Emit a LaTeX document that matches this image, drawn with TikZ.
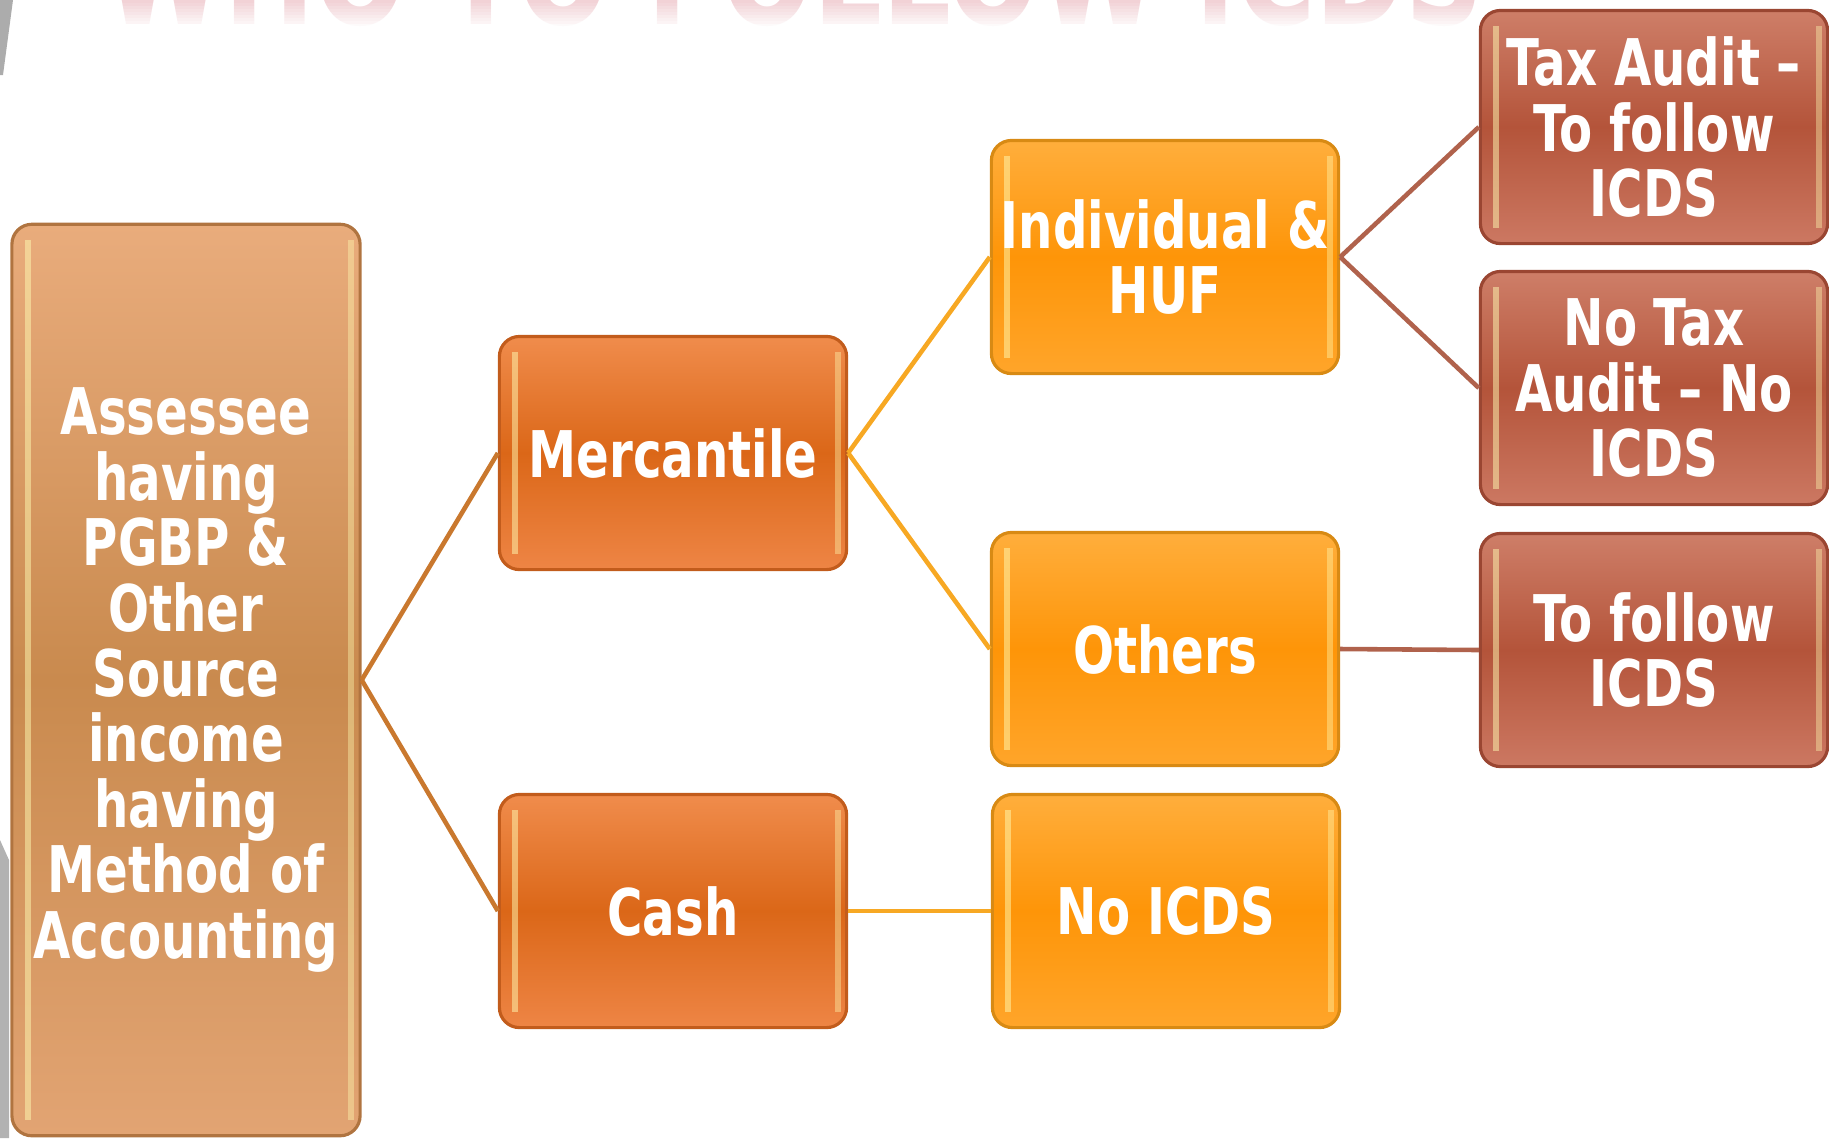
\documentclass[tikz,border=0pt]{standalone}
\usepackage{fontspec}
\setmainfont{DejaVu Sans}[FakeStretch=0.75]

\definecolor{tanTop}{HTML}{E9AC7C}
\definecolor{tanMid}{HTML}{C98A4E}
\definecolor{tanBot}{HTML}{E2A473}
\definecolor{tanEdge}{HTML}{B07440}
\definecolor{darkTop}{HTML}{F08C4C}
\definecolor{darkMid}{HTML}{DB6718}
\definecolor{darkBot}{HTML}{EE8545}
\definecolor{darkEdge}{HTML}{C25C1C}
\definecolor{orTop}{HTML}{FFAE3C}
\definecolor{orMid}{HTML}{FE9508}
\definecolor{orBot}{HTML}{FFA52A}
\definecolor{orEdge}{HTML}{D88A14}
\definecolor{brTop}{HTML}{CE7E68}
\definecolor{brMid}{HTML}{B4543A}
\definecolor{brBot}{HTML}{CC7862}
\definecolor{brEdge}{HTML}{9A4632}
\definecolor{tanLine}{HTML}{C9782E}
\definecolor{orLine}{HTML}{F7A823}
\definecolor{brLine}{HTML}{B0624C}
\definecolor{wmPink}{HTML}{F2D2D6}

\begin{document}
\begin{tikzpicture}[x=0.01cm, y=-0.01cm,
  box/.style={rounded corners=0.2cm, line width=0.9pt,
    minimum width=3.47cm, minimum height=2.33cm, inner sep=0pt,
    align=center, text=white,
    font=\fontsize{18.3pt}{18.6pt}\selectfont\bfseries,
    path picture={
      \fill[sharp corners, white!70!yellow, opacity=0.5]
        ([xshift=0.13cm, yshift=-0.16cm]path picture bounding box.north west)
        rectangle ([xshift=0.19cm, yshift=0.16cm]path picture bounding box.south west);
      \fill[sharp corners, white!70!yellow, opacity=0.4]
        ([xshift=-0.12cm, yshift=-0.16cm]path picture bounding box.north east)
        rectangle ([xshift=-0.06cm, yshift=0.16cm]path picture bounding box.south east);
    }},
  tanbox/.style={box, draw=tanEdge, top color=tanTop, bottom color=tanBot, middle color=tanMid},
  darkbox/.style={box, draw=darkEdge, top color=darkTop, bottom color=darkBot, middle color=darkMid},
  orbox/.style={box, draw=orEdge, top color=orTop, bottom color=orBot, middle color=orMid},
  brbox/.style={box, draw=brEdge, top color=brTop, bottom color=brBot, middle color=brMid},
  link/.style={line width=1.3pt}]
\useasboundingbox (0,0) rectangle (1829,1138);

% faded title at the top edge
\begin{scope}
  \clip (0,0) rectangle (1829,30);
  \node[anchor=base, text=wmPink, font=\fontsize{41pt}{41pt}\selectfont\bfseries] (title) at (794,24) {WHO TO FOLLOW ICDS};
  \foreach \i in {1,...,8}
    \fill[white, opacity=\i/9] (0,{3*\i}) rectangle (1829,{3*\i+3});
\end{scope}

% grey edges of the slide
\fill[gray!65] (0,0) -- (13,0) -- (3,75) -- (0,75) -- cycle;
\fill[gray!60] (0,840) -- (9,860) -- (9,1138) -- (0,1138) -- cycle;

% boxes
\node[tanbox, minimum height=9.11cm, minimum width=3.48cm] (root) at (186,680)
  {Assessee\\having\\PGBP \&\\Other\\Source\\income\\having\\Method of\\Accounting};

\node[darkbox] (merc) at (673,453) {Mercantile};
\node[darkbox] (cash) at (673,911) {Cash};

\node[orbox] (indiv) at (1165,257) {Individual \&\\HUF};
\node[orbox] (others) at (1165,649) {Others};
\node[orbox] (noicds) at (1166,911) {No ICDS};

\node[brbox] (taxaudit) at (1654,127) {Tax Audit --\\To follow\\ICDS};
\node[brbox] (notaxaudit) at (1654,388) {No Tax\\Audit -- No\\ICDS};
\node[brbox] (follow) at (1654,650) {To follow\\ICDS};

% connectors
\draw[link, tanLine] (root.east) -- (merc.west);
\draw[link, tanLine] (root.east) -- (cash.west);
\draw[link, orLine] (merc.east) -- (indiv.west);
\draw[link, orLine] (merc.east) -- (others.west);
\draw[link, orLine] (cash.east) -- (noicds.west);
\draw[link, brLine] (indiv.east) -- (taxaudit.west);
\draw[link, brLine] (indiv.east) -- (notaxaudit.west);
\draw[link, brLine] (others.east) -- (follow.west);
\end{tikzpicture}
\end{document}
